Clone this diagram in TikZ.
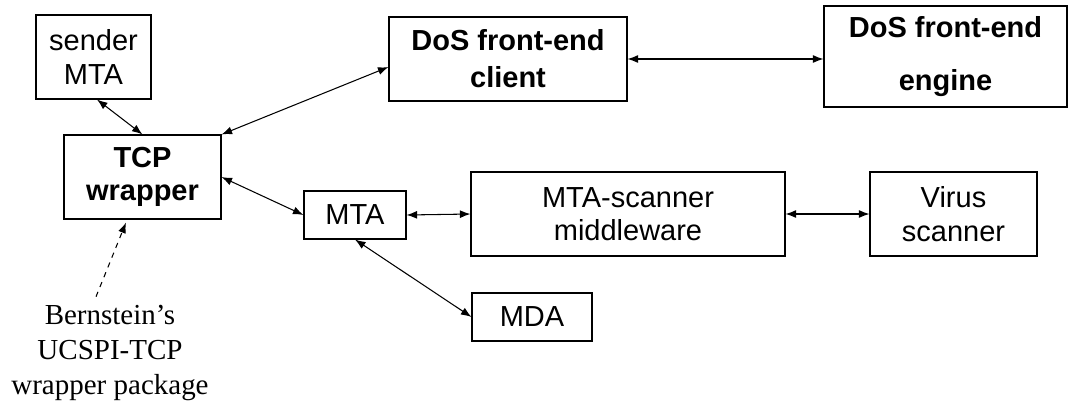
\documentclass[tikz,border=0pt]{standalone}
\usepackage{fontspec}
\setmainfont{Liberation Serif}
\setsansfont{Liberation Sans}
\usetikzlibrary{arrows.meta}

\begin{document}
\begin{tikzpicture}[
		box/.style={draw, rectangle, line width=0.6pt, align=center, inner sep=2pt,
			font=\sffamily\fontsize{16.5}{19}\selectfont},
		link/.style={<->, >={Latex[length=6pt,width=4.5pt]}, line width=0.6pt},
		note/.style={->, >={Latex[length=6pt,width=4.5pt]}, line width=0.6pt, dashed}]
			\useasboundingbox (0,0) rectangle (21.38,-8.1);
			\node[box, minimum width=2.3cm, minimum height=1.68cm] (sender)at(1.87, -1.14) {sender\\MTA};
			\node[box, minimum width=4.76cm, minimum height=1.68cm, font=\sffamily\bfseries\fontsize{16.5}{21}\selectfont] (client)at(10.16, -1.18) {DoS front-end\\client};
			\node[box, minimum width=4.86cm, minimum height=2.02cm, font=\sffamily\bfseries\fontsize{16.5}{30}\selectfont] (engine)at(18.91, -1.13) {DoS front-end\\engine};
			\node[box, minimum width=3.14cm, minimum height=1.68cm, font=\sffamily\bfseries\fontsize{16.5}{19}\selectfont] (TCP)at(2.85, -3.54) {TCP\\wrapper};
			\node[box, minimum width=2.04cm, minimum height=0.96cm] (MTA)at(7.10, -4.30) {MTA};
			\node[box, minimum width=6.28cm, minimum height=1.68cm] (middleware)at(12.56, -4.28) {MTA-scanner\\middleware};
			\node[box, minimum width=3.34cm, minimum height=1.68cm] (virus)at(19.07, -4.28) {Virus\\scanner};
			\node[box, minimum width=2.40cm, minimum height=0.96cm] (MDA)at(10.64, -6.34) {MDA};
			\node[align=center, font=\fontsize{16.5}{19.8}\selectfont] (UCSPI)at(2.2, -7.06) {Bernstein’s\\UCSPI-TCP\\wrapper package};
			\draw[link] ([xshift=0.07cm]sender.south) -- (TCP.north);
			\draw[link] (TCP.north east) -- ([yshift=-0.16cm]client.west);
			\draw[link] (client.east) -- (client.east -| engine.west);
			\draw[link] (TCP.east) -- (MTA.west);
			\draw[link] (MTA.east) -- (middleware.west);
			\draw[link] (middleware.east) -- (virus.west);
			\draw[link] (MTA.south) -- (MDA.west);
			\draw[note] ([xshift=-0.28cm, yshift=0.05cm]UCSPI.north) -- ([xshift=-0.33cm, yshift=-0.06cm]TCP.south);
		\end{tikzpicture}
\end{document}
